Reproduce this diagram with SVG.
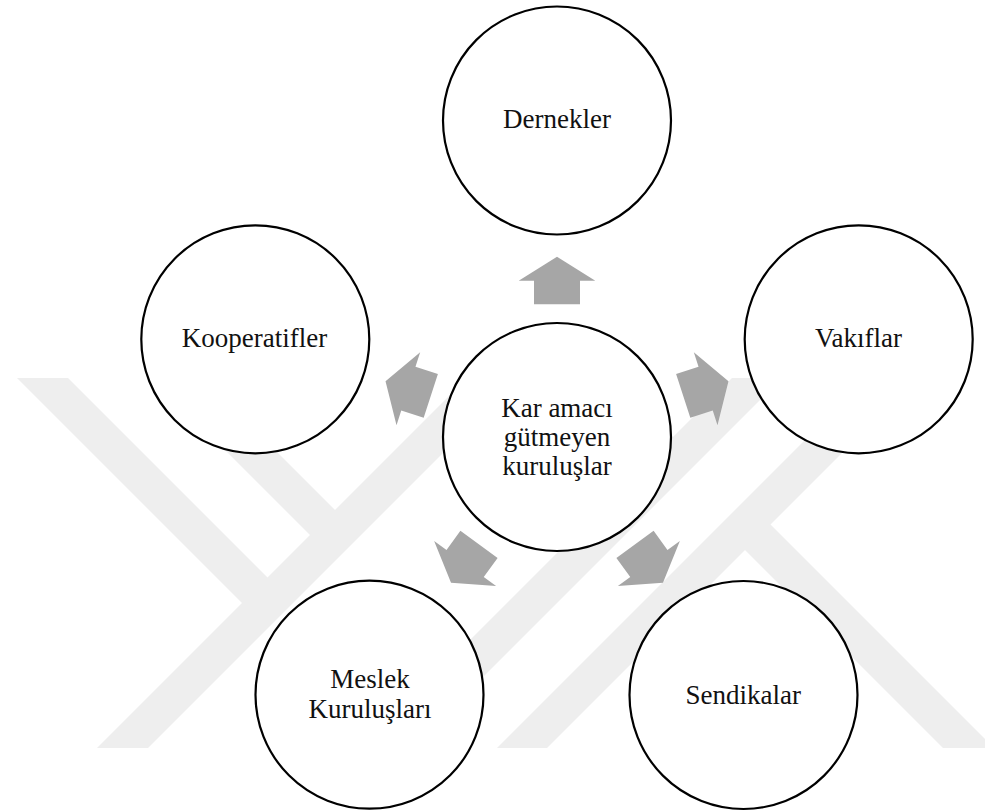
<svg xmlns="http://www.w3.org/2000/svg" xmlns:xlink="http://www.w3.org/1999/xlink" width="985" height="811" viewBox="0 0 985 811">
  <style>
    .wm { fill: #eeeeee; stroke: none; }
    .node circle { fill: #ffffff; stroke: #000000; stroke-width: 2.2; }
    .node text { font-family: "Liberation Serif", "Times New Roman", serif; font-size: 27px; fill: #111111; text-anchor: middle; }
    .arrow { fill: #a6a6a6; stroke: none; }
  </style>
  <defs>
    <path id="arr" d="M -23 -132.7 L -23 -156.3 L -38.3 -156.3 L 0 -180.3 L 38.3 -156.3 L 23 -156.3 L 23 -132.7 Z"/>
  </defs>
  <rect x="0" y="0" width="985" height="811" fill="#ffffff"/>
  <g id="watermark">
    <polygon class="wm" points="97,748 148,748 518,378 467,378"/>
    <polygon class="wm" points="17,378 68,378 280,590 254.5,615.5"/>
    <polygon class="wm" points="153,378 203,378 347.5,522.5 322.5,547.5"/>
    <polygon class="wm" points="362,748 412,748 782,378 732,378"/>
    <polygon class="wm" points="497,748 547,748 917,378 867,378"/>
    <polygon class="wm" points="732.5,537.5 758,512 994,748 943,748"/>
  </g>
  <g id="connectors">
    <use xlink:href="#arr" href="#arr" class="arrow" transform="translate(557,437) rotate(0)"/>
    <use xlink:href="#arr" href="#arr" class="arrow" transform="translate(557,437) rotate(72)"/>
    <use xlink:href="#arr" href="#arr" class="arrow" transform="translate(557,437) rotate(144)"/>
    <use xlink:href="#arr" href="#arr" class="arrow" transform="translate(557,437) rotate(216)"/>
    <use xlink:href="#arr" href="#arr" class="arrow" transform="translate(557,437) rotate(288)"/>
  </g>
  <g id="node-center" class="node">
    <circle cx="557" cy="437" r="114"/>
    <text x="557" y="416.7">Kar amacı</text>
    <text x="557" y="446">gütmeyen</text>
    <text x="557" y="475">kuruluşlar</text>
  </g>
  <g id="node-dernekler" class="node">
    <circle cx="557" cy="120.5" r="114"/>
    <text x="557" y="128.3">Dernekler</text>
  </g>
  <g id="node-vakiflar" class="node">
    <circle cx="858.7" cy="339.3" r="114"/>
    <text x="858.5" y="347.3">Vakıflar</text>
  </g>
  <g id="node-kooperatifler" class="node">
    <circle cx="255.3" cy="339.3" r="114"/>
    <text x="254.5" y="347.3">Kooperatifler</text>
  </g>
  <g id="node-meslek" class="node">
    <circle cx="369.5" cy="694.7" r="114"/>
    <text x="370" y="688.3">Meslek</text>
    <text x="370" y="717.5">Kuruluşları</text>
  </g>
  <g id="node-sendikalar" class="node">
    <circle cx="743.5" cy="695" r="114"/>
    <text x="743.3" y="703.5">Sendikalar</text>
  </g>
</svg>
